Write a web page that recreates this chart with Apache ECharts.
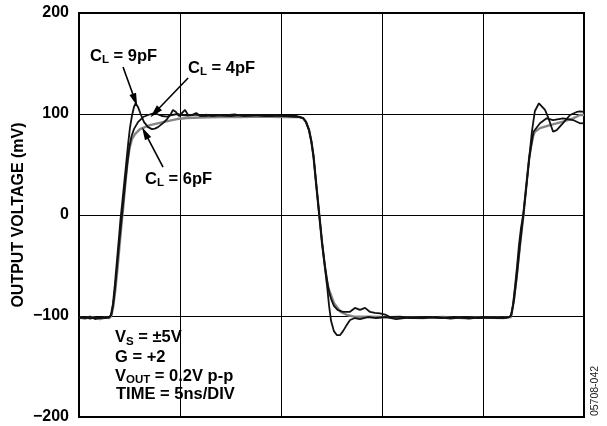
<!DOCTYPE html>
<html><head><meta charset="utf-8">
<script src="https://cdn.jsdelivr.net/npm/echarts@6/dist/echarts.min.js"></script>
<style>html,body{margin:0;padding:0;background:#fff}#c{width:607px;height:426px}</style>
</head><body><div id="c"></div>
<script>
// time in ns (5 ns/div), output voltage in mV
const trace6pF = [[0,-101.5],[0.3,-102.5],[0.54,-101],[0.79,-102],[1.04,-103],[1.29,-101.5],[1.49,-102],[1.6,-100],[1.7,-90],[1.8,-74],[1.9,-54],[2.0,-32],[2.1,-10],[2.2,10],[2.3,32],[2.4,52],[2.5,66],[2.62,75],[2.77,80],[3.02,85],[3.51,89],[4.16,92],[4.85,95],[5.35,96],[6,96.5],[7,97],[8,97],[9,97.5],[10,97],[10.9,97],[11.09,96],[11.24,92],[11.39,84],[11.51,72],[11.61,58],[11.73,33],[11.88,3],[12.03,-27],[12.18,-52],[12.3,-70],[12.62,-87],[12.95,-96],[13.27,-99],[13.61,-100.7],[14.43,-100.7],[15,-101],[16,-101.5],[17,-102],[18,-101],[19,-102],[20,-101.5],[21,-102],[21.39,-101],[21.53,-84],[21.68,-58],[21.83,-30],[22.0,0],[22.15,30],[22.28,55],[22.38,68],[22.48,78],[22.57,82.5],[22.82,86],[23.32,89],[23.96,92.4],[24.46,95.7],[24.8,99],[25,99]];
const trace9pF = [[0,-101],[0.3,-102],[0.54,-100.5],[0.79,-103],[1.04,-101.5],[1.29,-102],[1.49,-101],[1.58,-99],[1.68,-88],[1.78,-68],[1.88,-45],[1.98,-22],[2.05,-5],[2.13,10],[2.23,30],[2.33,50],[2.43,70],[2.52,86],[2.62,98],[2.72,107],[2.8,110.6],[2.92,107],[3.05,100],[3.22,92],[3.42,87],[3.61,85],[3.76,85.5],[3.91,87],[4.16,91],[4.36,95],[4.55,100],[4.65,104],[4.8,102],[4.95,98],[5.1,101],[5.25,104],[5.4,99],[5.6,99],[5.8,101],[6.0,98],[6.3,99.5],[6.6,98],[7.0,99],[7.5,98],[8.0,99],[8.5,98.5],[9.0,99],[9.5,98],[10.0,98.5],[10.5,97.5],[10.9,97],[11.09,96],[11.24,92],[11.39,84],[11.51,72],[11.61,58],[11.73,33],[11.88,3],[12.03,-27],[12.18,-52],[12.28,-70],[12.38,-90],[12.48,-105],[12.62,-115],[12.77,-119],[12.92,-119],[13.07,-115],[13.22,-110],[13.42,-104],[13.66,-102],[13.91,-103],[14.3,-101],[14.7,-102],[15.2,-101],[15.7,-103],[16.3,-101.5],[17,-102],[17.7,-101],[18.4,-102.5],[19.1,-101],[19.8,-102],[20.5,-101.5],[21.0,-102],[21.3,-101],[21.39,-99],[21.48,-90],[21.58,-72],[21.68,-52],[21.78,-30],[21.88,-13],[21.99,0],[22.13,25],[22.28,55],[22.43,84],[22.57,103],[22.77,110.6],[23.07,104],[23.22,97],[23.47,82.5],[23.65,84],[23.96,91],[24.31,99],[24.64,102],[24.8,102.5],[25,102]];
const trace4pF = [[0,-102],[0.3,-101],[0.54,-102.5],[0.79,-101.5],[1.04,-102],[1.29,-101],[1.49,-101.5],[1.6,-99],[1.7,-88],[1.8,-70],[1.9,-48],[2.0,-26],[2.1,-6],[2.2,14],[2.3,34],[2.4,52],[2.5,68],[2.6,78],[2.72,85],[2.92,92],[3.17,97],[3.42,99],[3.66,100.5],[3.86,100],[4.1,98],[4.36,97.5],[4.6,99],[4.85,100],[5.1,99],[5.4,98.5],[5.8,99.5],[6.2,98],[6.7,99],[7.2,98.5],[7.7,99.5],[8.2,98],[8.7,99],[9.2,98],[9.7,99],[10.2,98],[10.7,98.5],[10.94,97],[11.09,96],[11.24,92],[11.39,84],[11.51,72],[11.61,58],[11.73,33],[11.88,3],[12.03,-27],[12.18,-52],[12.28,-64],[12.38,-76],[12.48,-83],[12.62,-90],[12.8,-94],[13.07,-96],[13.4,-96],[13.66,-92],[13.91,-94],[14.16,-92],[14.41,-96],[14.65,-97],[14.9,-97.5],[15.2,-99],[15.4,-101],[15.9,-100.7],[16.5,-102],[17.2,-101],[17.9,-102],[18.6,-101],[19.3,-102.5],[20.0,-101],[20.7,-102],[21.2,-101.5],[21.39,-100],[21.53,-85],[21.68,-60],[21.83,-30],[22.0,0],[22.15,30],[22.3,58],[22.43,74],[22.5,82.5],[22.82,90.8],[23.15,95.7],[23.47,94],[23.96,95.7],[24.46,94],[24.8,90.8],[25,91]];
const yTickValues = [-200, -100, 0, 100, 200];
const timeMax = 25;
const timePerDiv = 5;
const yTitle = 'OUTPUT VOLTAGE (mV)';
const figureId = '05708-042';
// annotation arrows: [tail, head] in (ns, mV)
const arrow9pF = [[2.18, 146.5], [2.77, 113.9]];
const arrow4pF = [[5.40, 135.6], [3.76, 101.5]];
const arrow6pF = [[4.16, 47.5], [3.27, 81.2]];

const FONT = '"Liberation Sans", Arial, Helvetica, sans-serif';
const ctx = document.createElement('canvas').getContext('2d');
function textW(t, size) { ctx.font = 'bold ' + size + 'px ' + FONT; return ctx.measureText(t).width; }
function label(x, yc, parts, size, subSize, subDy) {
  const els = []; let cx = x;
  parts.forEach(([t, sub]) => {
    const s = sub ? subSize : size;
    els.push({ type: 'text', x: cx, y: yc + (sub ? subDy : 0), silent: true,
      style: { text: t, font: 'bold ' + s + 'px ' + FONT, fill: '#000', align: 'left', verticalAlign: 'middle' } });
    cx += textW(t, s);
  });
  return els;
}
const graphics = [].concat(
  label(90, 56, [['C', 0], ['L', 1], [' = 9pF', 0]], 16.5, 11.5, 4),
  label(188, 68, [['C', 0], ['L', 1], [' = 4pF', 0]], 16.5, 11.5, 4),
  label(145, 179, [['C', 0], ['L', 1], [' = 6pF', 0]], 16.5, 11.5, 4),
  label(115, 337.5, [['V', 0], ['S', 1], [' = ±5V', 0]], 16.5, 11.5, 4),
  label(115, 357, [['G = +2', 0]], 16.5, 11.5, 4),
  label(115, 376, [['V', 0], ['OUT', 1], [' = 0.2V p-p', 0]], 16.5, 11.5, 4),
  label(116, 394, [['TIME = 5ns/DIV', 0]], 16.5, 11.5, 4),
  [{ type: 'text', x: 19, y: 215, rotation: Math.PI / 2, silent: true,
     style: { text: yTitle, font: 'bold 16px ' + FONT, fill: '#000', align: 'center', verticalAlign: 'middle' } },
   { type: 'text', x: 595, y: 391, rotation: Math.PI / 2, silent: true,
     style: { text: figureId, font: '10.5px ' + FONT, fill: '#222', align: 'center', verticalAlign: 'middle' } }]
);
function arrowData(a) { return [{ coord: a[0] }, { coord: a[1] }]; }

const chart = echarts.init(document.getElementById('c'), null, { renderer: 'canvas' });
chart.setOption({
  animation: false,
  backgroundColor: '#fff',
  grid: { left: 79, top: 13, width: 505, height: 404, show: true, borderColor: '#000', borderWidth: 2, backgroundColor: 'transparent' },
  xAxis: { type: 'value', min: 0, max: timeMax, interval: timePerDiv,
    axisLine: { show: false }, axisTick: { show: false }, axisLabel: { show: false },
    splitLine: { show: true, lineStyle: { color: '#000', width: 1 } } },
  yAxis: { type: 'value', min: yTickValues[0], max: yTickValues[yTickValues.length - 1], interval: yTickValues[1] - yTickValues[0],
    axisLine: { show: false }, axisTick: { show: false },
    axisLabel: { margin: 10, color: '#000', fontSize: 16, fontWeight: 'bold', fontFamily: FONT,
      formatter: v => (v < 0 ? '\u2212' + Math.abs(v) : String(v)) },
    splitLine: { show: true, lineStyle: { color: '#000', width: 1 } } },
  series: [
    { name: 'CL = 6pF', type: 'line', data: trace6pF, showSymbol: false, symbol: 'none',
      lineStyle: { color: '#858585', width: 2.4 }, z: 2 },
    { name: 'CL = 4pF', type: 'line', data: trace4pF, showSymbol: false, symbol: 'none',
      lineStyle: { color: '#111', width: 1.8 }, z: 3 },
    { name: 'CL = 9pF', type: 'line', data: trace9pF, showSymbol: false, symbol: 'none',
      lineStyle: { color: '#111', width: 1.8 }, z: 4,
      markLine: { silent: true, symbol: ['none', 'triangle'], symbolSize: [7, 13], animation: false,
        label: { show: false }, lineStyle: { color: '#000', width: 1.6, type: 'solid' },
        data: [arrowData(arrow9pF), arrowData(arrow4pF), arrowData(arrow6pF)] } }
  ],
  graphic: graphics
});
</script></body></html>
